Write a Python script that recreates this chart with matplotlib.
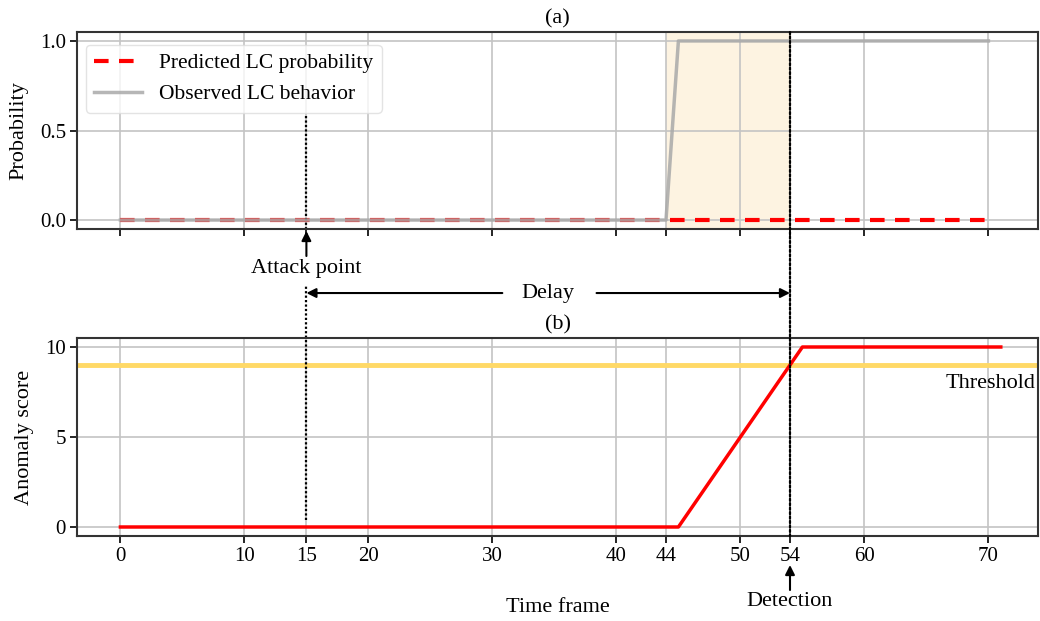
import matplotlib
matplotlib.use("Agg")
import matplotlib.pyplot as plt
from matplotlib.patches import ConnectionPatch

# ---- data ----
obs_t = [0, 44, 45, 70]
obs_v = [0, 0, 1, 1]
pred_t = [0, 70]
pred_v = [0, 0]
score_t = [0, 45, 55, 71]
score_v = [0, 0, 10, 10]
threshold = 9
attack_frame = 15
detection_frame = 54
shade_span = (44, 54)
xticks = [0, 10, 15, 20, 30, 40, 44, 50, 54, 60, 70]
yticks_a = [0.0, 0.5, 1.0]
yticks_b = [0, 5, 10]

plt.rcParams['font.family'] = ['Liberation Serif', 'DejaVu Serif']
plt.rcParams['font.size'] = 15

W, H = 1040, 621
fig = plt.figure(figsize=(W / 100, H / 100), dpi=100)
L, R = 77 / W, 1038 / W
ax1 = fig.add_axes([L, 1 - 229 / H, R - L, (229 - 32) / H])
ax2 = fig.add_axes([L, 1 - 536 / H, R - L, (536 - 338) / H])

for ax in (ax1, ax2):
    ax.set_xlim(-3.5, 74)
    ax.set_xticks(xticks)
    ax.grid(True, color='#c4c4c4', lw=1.2)
    ax.set_axisbelow(True)
    for s in ax.spines.values():
        s.set_linewidth(1.5)
        s.set_color('#333333')
    ax.tick_params(direction='out', length=5, width=1.2, labelsize=15, pad=3)

# ---- (a) ----
ax1.axvspan(*shade_span, color='#fdf3e1', zorder=0.5)
ax1.plot(pred_t, pred_v, color='red', ls=(0, (3.5, 2.5)), lw=3, label='Predicted LC probability', zorder=2)
ax1.plot(obs_t, obs_v, color='#a9a9a9', lw=2.5, alpha=0.85, label='Observed LC behavior', zorder=3)
ax1.set_ylim(-0.05, 1.05)
ax1.set_yticks(yticks_a)
ax1.set_yticklabels(['0.0', '0.5', '1.0'])
ax1.tick_params(axis='x', labelbottom=False)
ax1.set_ylabel('Probability', fontsize=16, labelpad=8)
ax1.set_title('(a)', fontsize=16, pad=6)
ax1.legend(loc='upper left', fontsize=15.5, frameon=True, fancybox=True,
           framealpha=0.8, edgecolor='#dddddd', handlelength=2.2,
           borderaxespad=0.4, bbox_to_anchor=(0.0, 0.98))

# ---- (b) ----
ax2.axhline(threshold, color='#ffd966', lw=3.5, zorder=2)
ax2.plot(score_t, score_v, color='red', lw=2.5, zorder=3)
ax2.set_ylim(-0.5, 10.5)
ax2.set_yticks(yticks_b)
ax2.set_ylabel('Anomaly score', fontsize=16, labelpad=8)
ax2.set_title('(b)', fontsize=16, pad=6)
ax2.text(73.8, 8.0, 'Threshold', ha='right', va='center', fontsize=16)
fig.text((77 + 1038) / 2 / W, 1 - 607 / H, 'Time frame', ha='center', va='center', fontsize=16)

# ---- annotation lines ----
dot = dict(color='black', lw=1.6, ls=(0, (1, 1)))
# detection line through both axes
fig.add_artist(ConnectionPatch(xyA=(detection_frame, 1.05), coordsA=ax1.transData,
                               xyB=(detection_frame, -0.5), coordsB=ax2.transData, **dot))
# attack line in top axes
ax1.plot([attack_frame, attack_frame], [0.58, -0.05], clip_on=False, **dot)
# attack line from gap into bottom axes
ax2.plot([attack_frame, attack_frame], [0.4, 10.5 + (338 - 285) / 18], clip_on=False, **dot)

arrow = dict(arrowstyle='-|>', color='black', lw=1.5, mutation_scale=14, shrinkA=0, shrinkB=0)
# attack point arrow
ax1.annotate('', xy=(attack_frame, -0.05 - 2 / 179), xytext=(attack_frame, -0.05 - 27 / 179),
             arrowprops=arrow, annotation_clip=False)
ax1.text(attack_frame, -0.05 - 39 / 179, 'Attack point', ha='center', va='center',
         fontsize=16, clip_on=False)

# delay arrows
ydelay = -0.05 - (293 - 229) / 179
ax1.annotate('', xy=(attack_frame, ydelay), xytext=(30.8, ydelay),
             arrowprops=arrow, annotation_clip=False)
ax1.annotate('', xy=(detection_frame, ydelay), xytext=(38.4, ydelay),
             arrowprops=arrow, annotation_clip=False)
ax1.text((attack_frame + detection_frame) / 2, ydelay, 'Delay', ha='center', va='center',
         fontsize=16, clip_on=False)

# detection arrow
ax2.annotate('', xy=(detection_frame, -0.5 - 29 / 18), xytext=(detection_frame, -0.5 - 54 / 18),
             arrowprops=arrow, annotation_clip=False)
ax2.text(detection_frame, -0.5 - 66 / 18, 'Detection', ha='center', va='center',
         fontsize=16, clip_on=False)

fig.savefig('out.png', dpi=100)
